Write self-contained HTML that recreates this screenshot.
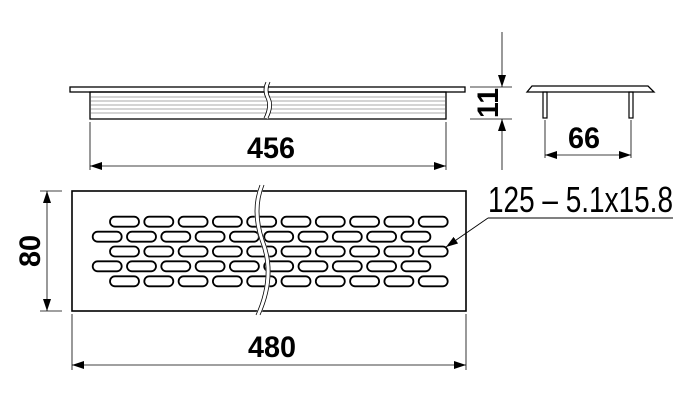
<!DOCTYPE html>
<html><head><style>body{margin:0;background:#fff}</style></head><body>
<svg width="685" height="406" viewBox="0 0 685 406" xmlns="http://www.w3.org/2000/svg" font-family="Liberation Sans, sans-serif">
<defs>
<marker id="a" markerWidth="12" markerHeight="8" refX="12" refY="4" orient="auto" markerUnits="userSpaceOnUse"><path d="M0,0 L12,4 L0,8 Z" fill="#000"/></marker>
<g id="s"><rect x="0" y="-5" width="29" height="10" rx="5" fill="none" stroke="#000" stroke-width="1.8"/></g>
</defs>
<g stroke="#000" fill="none">
<rect x="70" y="87" width="395" height="5" stroke-width="1.3"/>
<rect x="90" y="92" width="356" height="27" stroke-width="1.3"/>
<g stroke-width="0.6" stroke="#555">
<line x1="90" y1="97" x2="446" y2="97"/><line x1="90" y1="101" x2="446" y2="101"/><line x1="90" y1="105" x2="446" y2="105"/><line x1="90" y1="109" x2="446" y2="109"/><line x1="90" y1="113" x2="446" y2="113"/>
</g>
<path d="M268,82 q-4,8 0,16 q4,8 -2,20" stroke="#fff" stroke-width="4"/>
<path d="M266,82 q-4,8 0,16 q4,8 -2,20 M270,82 q-4,8 0,16 q4,8 -2,20" stroke-width="0.8"/>
<line x1="90" y1="122" x2="90" y2="170" stroke-width="0.8"/>
<line x1="446" y1="122" x2="446" y2="170" stroke-width="0.8"/>
<line x1="100" y1="166" x2="90" y2="166" stroke-width="0.8" marker-end="url(#a)"/>
<line x1="100" y1="166" x2="446" y2="166" stroke-width="0.8" marker-end="url(#a)"/>
<line x1="470" y1="87" x2="512" y2="87" stroke-width="0.8"/>
<line x1="470" y1="119" x2="512" y2="119" stroke-width="0.8"/>
<line x1="502" y1="32" x2="502" y2="87" stroke-width="0.8" marker-end="url(#a)"/>
<line x1="502" y1="170" x2="502" y2="119" stroke-width="0.8" marker-end="url(#a)"/>
<path d="M527,92 L532,86 L648,86 L654,92 Z" stroke-width="1.3"/>
<rect x="543" y="92" width="4" height="26" stroke-width="1.2"/>
<rect x="629" y="92" width="4" height="26" stroke-width="1.2"/>
<line x1="545" y1="120" x2="545" y2="158" stroke-width="0.8"/>
<line x1="631" y1="120" x2="631" y2="158" stroke-width="0.8"/>
<line x1="560" y1="155" x2="545" y2="155" stroke-width="0.8" marker-end="url(#a)"/>
<line x1="560" y1="155" x2="631" y2="155" stroke-width="0.8" marker-end="url(#a)"/>
<rect x="72" y="191" width="394" height="120" stroke-width="1.6"/>
<line x1="40" y1="191" x2="62" y2="191" stroke-width="0.8"/>
<line x1="40" y1="311" x2="62" y2="311" stroke-width="0.8"/>
<line x1="47" y1="200" x2="47" y2="191" stroke-width="0.8" marker-end="url(#a)"/>
<line x1="47" y1="200" x2="47" y2="311" stroke-width="0.8" marker-end="url(#a)"/>
<line x1="72" y1="314" x2="72" y2="370" stroke-width="0.8"/>
<line x1="466" y1="314" x2="466" y2="370" stroke-width="0.8"/>
<line x1="90" y1="365" x2="72" y2="365" stroke-width="0.8" marker-end="url(#a)"/>
<line x1="90" y1="365" x2="466" y2="365" stroke-width="0.8" marker-end="url(#a)"/>
</g>
<g>
<g transform="translate(110,221.7)"><use href="#s"/><use href="#s" x="34.3"/><use href="#s" x="68.6"/><use href="#s" x="102.9"/><use href="#s" x="137.2"/><use href="#s" x="171.5"/><use href="#s" x="205.8"/><use href="#s" x="240.1"/><use href="#s" x="274.4"/><use href="#s" x="308.7"/></g>
<g transform="translate(92.7,236.7)"><use href="#s"/><use href="#s" x="34.3"/><use href="#s" x="68.6"/><use href="#s" x="102.9"/><use href="#s" x="137.2"/><use href="#s" x="171.5"/><use href="#s" x="205.8"/><use href="#s" x="240.1"/><use href="#s" x="274.4"/><use href="#s" x="308.7"/></g>
<g transform="translate(110,251.5)"><use href="#s"/><use href="#s" x="34.3"/><use href="#s" x="68.6"/><use href="#s" x="102.9"/><use href="#s" x="137.2"/><use href="#s" x="171.5"/><use href="#s" x="205.8"/><use href="#s" x="240.1"/><use href="#s" x="274.4"/><use href="#s" x="308.7"/></g>
<g transform="translate(92.7,266.3)"><use href="#s"/><use href="#s" x="34.3"/><use href="#s" x="68.6"/><use href="#s" x="102.9"/><use href="#s" x="137.2"/><use href="#s" x="171.5"/><use href="#s" x="205.8"/><use href="#s" x="240.1"/><use href="#s" x="274.4"/><use href="#s" x="308.7"/></g>
<g transform="translate(110,281.3)"><use href="#s"/><use href="#s" x="34.3"/><use href="#s" x="68.6"/><use href="#s" x="102.9"/><use href="#s" x="137.2"/><use href="#s" x="171.5"/><use href="#s" x="205.8"/><use href="#s" x="240.1"/><use href="#s" x="274.4"/><use href="#s" x="308.7"/></g>
</g>
<g fill="none">
<path d="M262,185 q-10,25 0,55 q14,35 -4,75" stroke="#fff" stroke-width="5"/>
<path d="M260,185 q-10,25 0,55 q14,35 -4,75 M264,185 q-10,25 0,55 q14,35 -4,75" stroke="#000" stroke-width="0.8"/>
<line x1="488" y1="218" x2="673" y2="218" stroke="#000" stroke-width="0.9"/>
<line x1="488" y1="218" x2="446" y2="247" stroke="#000" stroke-width="0.9" marker-end="url(#a)"/>
</g>
<g fill="#000" font-size="30" font-weight="bold">
<text x="271" y="158" text-anchor="middle" textLength="48" lengthAdjust="spacingAndGlyphs">456</text>
<text x="584" y="148" text-anchor="middle" textLength="32" lengthAdjust="spacingAndGlyphs">66</text>
<text x="272" y="357" text-anchor="middle" textLength="48" lengthAdjust="spacingAndGlyphs">480</text>
<text transform="translate(498,103) rotate(-90)" text-anchor="middle" textLength="30" lengthAdjust="spacingAndGlyphs">11</text>
<text transform="translate(40,251) rotate(-90)" text-anchor="middle" textLength="32" lengthAdjust="spacingAndGlyphs">80</text>
<text x="488" y="212" font-size="36" font-weight="normal" textLength="185" lengthAdjust="spacingAndGlyphs">125 – 5.1x15.8</text>
</g>
</svg>
</body></html>
